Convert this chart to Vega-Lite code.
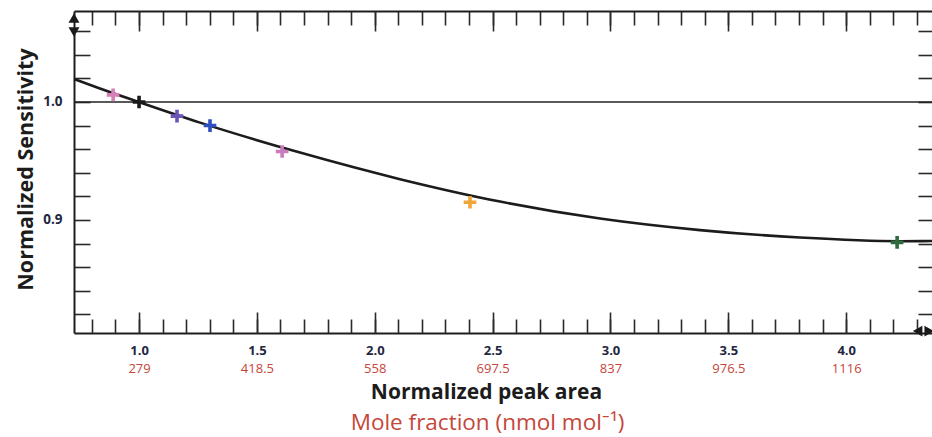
{
  "$schema": "https://vega.github.io/schema/vega-lite/v6.json",
  "width": 858,
  "height": 322,
  "autosize": {"type": "none"},
  "padding": {"left": 74, "top": 11, "right": 0, "bottom": 104},
  "background": "white",
  "config": {
    "view": {"stroke": null},
    "font": "Open Sans",
    "axis": {
      "grid": false,
      "domainColor": "#1e1e1e",
      "domainWidth": 2,
      "tickColor": "#2a2a2a",
      "tickWidth": 1.6,
      "labelFlush": false,
      "labelOverlap": false
    }
  },
  "datasets": {
    "fit": [
      {"area": 0.724, "sensitivity": 1.0195},
      {"area": 0.834, "sensitivity": 1.0114},
      {"area": 0.9955, "sensitivity": 1.0002},
      {"area": 1.2586, "sensitivity": 0.9825},
      {"area": 1.6829, "sensitivity": 0.9571},
      {"area": 2.1071, "sensitivity": 0.9346},
      {"area": 2.5314, "sensitivity": 0.9156},
      {"area": 2.9556, "sensitivity": 0.9012},
      {"area": 3.3799, "sensitivity": 0.8914},
      {"area": 3.8042, "sensitivity": 0.8851},
      {"area": 4.2284, "sensitivity": 0.882},
      {"area": 4.364, "sensitivity": 0.8822}
    ],
    "standards": [
      {"area": 0.89, "sensitivity": 1.006, "standard": "A"},
      {"area": 1.0, "sensitivity": 1.0, "standard": "B"},
      {"area": 1.161, "sensitivity": 0.988, "standard": "C"},
      {"area": 1.301, "sensitivity": 0.98, "standard": "D"},
      {"area": 1.607, "sensitivity": 0.958, "standard": "E"},
      {"area": 2.404, "sensitivity": 0.915, "standard": "F"},
      {"area": 4.216, "sensitivity": 0.881, "standard": "G"}
    ]
  },
  "resolve": {"axis": {"x": "independent", "y": "independent"}},
  "layer": [
    {
      "description": "Reference line at sensitivity 1.0, carrying the left frame and its inner ticks",
      "data": {"values": [{"sensitivity": 1.0}]},
      "mark": {"type": "rule", "color": "#222222", "strokeWidth": 1.5},
      "encoding": {
        "y": {
          "field": "sensitivity", "type": "quantitative",
          "scale": {"domain": [0.8042, 1.0771], "nice": false, "zero": false},
          "axis": {
            "orient": "left", "title": null, "labels": false, "domain": true,
            "tickSize": -16,
            "values": [0.82, 0.84, 0.86, 0.88, 0.9, 0.92, 0.94, 0.96, 0.98, 1.0, 1.02, 1.04, 1.06]
          }
        }
      }
    },
    {
      "description": "Fitted sensitivity curve; bottom frame with minor ticks, right inner ticks",
      "data": {"name": "fit"},
      "mark": {"type": "line", "color": "#1c1c1c", "strokeWidth": 2.6, "interpolate": "monotone"},
      "encoding": {
        "x": {
          "field": "area", "type": "quantitative",
          "scale": {"domain": [0.724, 4.364], "nice": false, "zero": false},
          "axis": {
            "orient": "bottom", "title": null, "labels": false, "domain": true,
            "tickSize": -14,
            "values": [0.8, 0.9, 1.0, 1.1, 1.2, 1.3, 1.4, 1.5, 1.6, 1.7, 1.8, 1.9, 2.0, 2.1, 2.2, 2.3, 2.4, 2.5, 2.6, 2.7, 2.8, 2.9, 3.0, 3.1, 3.2, 3.3, 3.4, 3.5, 3.6, 3.7, 3.8, 3.9, 4.0, 4.1, 4.2, 4.3]
          }
        },
        "y": {
          "field": "sensitivity", "type": "quantitative",
          "scale": {"domain": [0.8042, 1.0771], "nice": false, "zero": false},
          "axis": {
            "orient": "right", "title": null, "labels": false, "domain": false,
            "tickSize": -14,
            "values": [0.82, 0.84, 0.86, 0.88, 0.9, 0.92, 0.94, 0.96, 0.98, 1.0, 1.02, 1.04, 1.06]
          }
        }
      }
    },
    {
      "description": "Measured standards as coloured plus markers; bottom major ticks, left labels",
      "data": {"name": "standards"},
      "mark": {
        "type": "point",
        "shape": "M-1,0L1,0M0,-1L0,1",
        "filled": false,
        "size": 160,
        "strokeWidth": 3.6,
        "opacity": 1
      },
      "encoding": {
        "x": {
          "field": "area", "type": "quantitative",
          "scale": {"domain": [0.724, 4.364], "nice": false, "zero": false},
          "axis": {
            "orient": "bottom", "title": null, "labels": false, "domain": false,
            "tickSize": -21,
            "values": [1.0, 1.5, 2.0, 2.5, 3.0, 3.5, 4.0]
          }
        },
        "y": {
          "field": "sensitivity", "type": "quantitative",
          "scale": {"domain": [0.8042, 1.0771], "nice": false, "zero": false},
          "axis": {
            "orient": "left", "ticks": false, "domain": false,
            "values": [0.9, 1.0], "format": ".1f",
            "labelPadding": 12, "labelFontSize": 13.5, "labelFontWeight": "bold", "labelColor": "#23263f",
            "title": "Normalized Sensitivity",
            "titleFontSize": 21.5, "titleFontWeight": "bold", "titleColor": "#1c1c1c",
            "titleAngle": -90, "titleAlign": "center", "titleBaseline": "alphabetic",
            "titleX": -42, "titleY": 158
          }
        },
        "color": {
          "field": "standard", "type": "nominal", "legend": null,
          "scale": {
            "domain": ["A", "B", "C", "D", "E", "F", "G"],
            "range": ["#d47fb6", "#1a1a1a", "#6a55b5", "#2f4fc0", "#c97bbd", "#f1a437", "#2f6b3e"]
          }
        }
      }
    },
    {
      "description": "Pan handle (up) at the top of the y axis; bottom peak-area labels and title",
      "data": {"values": [{"area": 0.724, "sensitivity": 1.0712}]},
      "mark": {"type": "point", "shape": "triangle-up", "filled": true, "size": 120, "color": "#1a1a1a", "opacity": 1},
      "encoding": {
        "x": {
          "field": "area", "type": "quantitative",
          "scale": {"domain": [0.724, 4.364], "nice": false, "zero": false},
          "axis": {
            "orient": "bottom", "ticks": false, "domain": false,
            "values": [1.0, 1.5, 2.0, 2.5, 3.0, 3.5, 4.0], "format": ".1f",
            "labelPadding": 21, "labelBaseline": "alphabetic",
            "labelFontSize": 13, "labelFontWeight": "bold", "labelColor": "#23263f",
            "title": "Normalized peak area",
            "titleFontSize": 21, "titleFontWeight": "bold", "titleColor": "#1c1c1c",
            "titleAlign": "center", "titleBaseline": "alphabetic",
            "titleX": 412, "titleY": 65.5
          }
        },
        "y": {
          "field": "sensitivity", "type": "quantitative",
          "scale": {"domain": [0.8042, 1.0771], "nice": false, "zero": false},
          "axis": null
        }
      }
    },
    {
      "description": "Pan handle (down) at the top of the y axis; mole fraction labels and title",
      "data": {"values": [{"area": 0.724, "sensitivity": 1.0593}]},
      "mark": {"type": "point", "shape": "triangle-down", "filled": true, "size": 120, "color": "#1a1a1a", "opacity": 1},
      "encoding": {
        "x": {
          "field": "area", "type": "quantitative",
          "scale": {"domain": [0.724, 4.364], "nice": false, "zero": false},
          "axis": {
            "orient": "bottom", "ticks": false, "domain": false,
            "values": [1.0, 1.5, 2.0, 2.5, 3.0, 3.5, 4.0],
            "labelExpr": "format(datum.value * 279, '.1~f')",
            "labelPadding": 39, "labelBaseline": "alphabetic",
            "labelFontSize": 13, "labelFontWeight": "normal", "labelColor": "#c5463a",
            "title": "Mole fraction (nmol mol⁻¹)",
            "titleFontSize": 22.5, "titleFontWeight": "normal", "titleColor": "#c5463a",
            "titleAlign": "center", "titleBaseline": "alphabetic",
            "titleX": 413, "titleY": 96
          }
        },
        "y": {
          "field": "sensitivity", "type": "quantitative",
          "scale": {"domain": [0.8042, 1.0771], "nice": false, "zero": false},
          "axis": null
        }
      }
    },
    {
      "description": "Pan handle (left) at the end of the x axis; top frame with minor ticks",
      "data": {"values": [{"area": 4.303, "sensitivity": 0.8058}]},
      "mark": {"type": "point", "shape": "triangle-left", "filled": true, "size": 120, "color": "#1a1a1a", "opacity": 1},
      "encoding": {
        "x": {
          "field": "area", "type": "quantitative",
          "scale": {"domain": [0.724, 4.364], "nice": false, "zero": false},
          "axis": {
            "orient": "top", "title": null, "labels": false, "domain": true,
            "tickSize": -14,
            "values": [0.8, 0.9, 1.0, 1.1, 1.2, 1.3, 1.4, 1.5, 1.6, 1.7, 1.8, 1.9, 2.0, 2.1, 2.2, 2.3, 2.4, 2.5, 2.6, 2.7, 2.8, 2.9, 3.0, 3.1, 3.2, 3.3, 3.4, 3.5, 3.6, 3.7, 3.8, 3.9, 4.0, 4.1, 4.2, 4.3]
          }
        },
        "y": {
          "field": "sensitivity", "type": "quantitative",
          "scale": {"domain": [0.8042, 1.0771], "nice": false, "zero": false},
          "axis": null
        }
      }
    },
    {
      "description": "Pan handle (right) at the end of the x axis; top major ticks",
      "data": {"values": [{"area": 4.352, "sensitivity": 0.8058}]},
      "mark": {"type": "point", "shape": "triangle-right", "filled": true, "size": 120, "color": "#1a1a1a", "opacity": 1},
      "encoding": {
        "x": {
          "field": "area", "type": "quantitative",
          "scale": {"domain": [0.724, 4.364], "nice": false, "zero": false},
          "axis": {
            "orient": "top", "title": null, "labels": false, "domain": false,
            "tickSize": -20,
            "values": [1.0, 1.5, 2.0, 2.5, 3.0, 3.5, 4.0]
          }
        },
        "y": {
          "field": "sensitivity", "type": "quantitative",
          "scale": {"domain": [0.8042, 1.0771], "nice": false, "zero": false},
          "axis": null
        }
      }
    }
  ]
}
